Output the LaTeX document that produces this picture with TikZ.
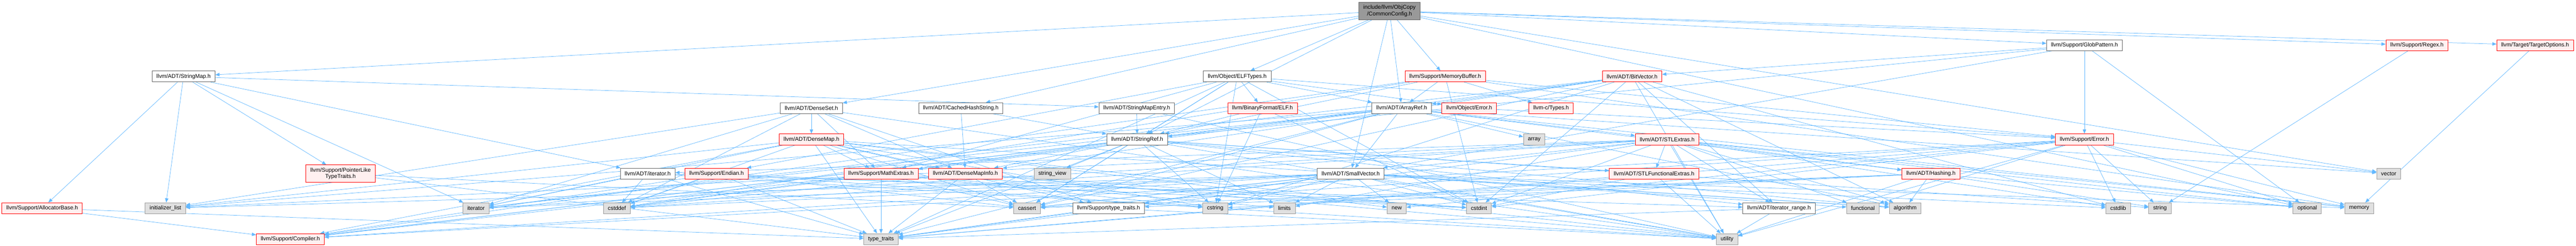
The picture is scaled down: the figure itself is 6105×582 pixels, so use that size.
\documentclass[tikz,border=0pt]{standalone}
\usepackage{fontspec}
\setmainfont{Liberation Sans}
\usetikzlibrary{arrows.meta, backgrounds}

\definecolor{edgeblue}{HTML}{63B8FF}
\definecolor{hdrline}{HTML}{666666}
\definecolor{sysline}{HTML}{999999}
\definecolor{sysfill}{HTML}{E0E0E0}
\definecolor{cutfill}{HTML}{FFF0F0}

\begin{document}
\begin{tikzpicture}[x=1pt, y=-1pt,
    every node/.style={font=\fontsize{13.2}{15}\selectfont, inner xsep=10.5pt, inner ysep=0pt,
        minimum height=26pt, line width=1pt, align=center},
    hdr/.style={draw=hdrline, fill=white},
    syshdr/.style={draw=sysline, fill=sysfill},
    cuthdr/.style={draw=red, fill=cutfill},
    roothdr/.style={draw=hdrline, fill=sysline, minimum height=42pt},
    incl/.style={draw=edgeblue, line width=0.9pt, -{Triangle[length=10pt,width=8pt]}}]
    \useasboundingbox (0,0) rectangle (6105,582);

    % rank 0 and 1
    \node[roothdr] (cfg) at (3293,26) {include/llvm/ObjCopy\\/CommonConfig.h};
    \node[hdr] (glob) at (4940,107) {llvm/Support/GlobPattern.h};
    \node[cuthdr] (regex) at (5728,107) {llvm/Support/Regex.h};
    \node[cuthdr] (targetopt) at (6008,107) {llvm/Target/TargetOptions.h};

    % rank 2
    \node[hdr] (stringmap) at (435,181) {llvm/ADT/StringMap.h};
    \node[hdr] (elftypes) at (2932,181) {llvm/Object/ELFTypes.h};
    \node[cuthdr] (membuf) at (3425,181) {llvm/Support/MemoryBuffer.h};
    \node[cuthdr] (bitvector) at (3868,181) {llvm/ADT/BitVector.h};

    % rank 3
    \node[hdr] (denseset) at (1923,256) {llvm/ADT/DenseSet.h};
    \node[hdr] (cachedhash) at (2277,256) {llvm/ADT/CachedHashString.h};
    \node[hdr] (mapentry) at (2694,256) {llvm/ADT/StringMapEntry.h};
    \node[cuthdr] (elfh) at (2992,256) {llvm/BinaryFormat/ELF.h};
    \node[hdr] (arrayref) at (3322,256) {llvm/ADT/ArrayRef.h};
    \node[cuthdr] (objerror) at (3482,256) {llvm/Object/Error.h};
    \node[cuthdr] (ctypes) at (3676,256) {llvm-c/Types.h};

    % rank 4
    \node[cuthdr] (densemap) at (1923,330) {llvm/ADT/DenseMap.h};
    \node[hdr] (stringref) at (2695,330) {llvm/ADT/StringRef.h};
    \node[syshdr] (array) at (3636,330) {array};
    \node[cuthdr] (stlextras) at (3951,330) {llvm/ADT/STLExtras.h};
    \node[cuthdr] (superror) at (4940,330) {llvm/Support/Error.h};

    % rank 5
    \node[cuthdr, minimum height=41pt] (pointerlike) at (807,411) {llvm/Support/PointerLike\\TypeTraits.h};
    \node[hdr] (iterh) at (1535,411) {llvm/ADT/iterator.h};
    \node[cuthdr] (endian) at (1698,411) {llvm/Support/Endian.h};
    \node[cuthdr] (mathextras) at (2088,411) {llvm/Support/MathExtras.h};
    \node[cuthdr] (densemapinfo) at (2288,411) {llvm/ADT/DenseMapInfo.h};
    \node[syshdr] (stringview) at (2494,411) {string\_view};
    \node[hdr] (smallvec) at (3201,411) {llvm/ADT/SmallVector.h};
    \node[cuthdr] (stlfunc) at (3920,411) {llvm/ADT/STLFunctionalExtras.h};
    \node[cuthdr] (hashing) at (4576,411) {llvm/ADT/Hashing.h};
    \node[syshdr] (vector) at (5661,411) {vector};

    % rank 6
    \node[cuthdr] (allocbase) at (100,493) {llvm/Support/AllocatorBase.h};
    \node[syshdr] (initlist) at (392,493) {initializer\_list};
    \node[syshdr] (iterator) at (1128,493) {iterator};
    \node[syshdr] (cstddef) at (1462,493) {cstddef};
    \node[syshdr] (cassert) at (2434,493) {cassert};
    \node[hdr] (suptraits) at (2627,493) {llvm/Support/type\_traits.h};
    \node[syshdr] (cstring) at (2880,493) {cstring};
    \node[syshdr] (limits) at (3044,493) {limits};
    \node[syshdr] (new) at (3310,493) {new};
    \node[syshdr] (cstdint) at (3505,493) {cstdint};
    \node[hdr] (iterrange) at (4216,493) {llvm/ADT/iterator\_range.h};
    \node[syshdr] (functional) at (4415,493) {functional};
    \node[syshdr] (algorithm) at (4515,493) {algorithm};
    \node[syshdr] (cstdlib) at (5020,493) {cstdlib};
    \node[syshdr] (string) at (5119,493) {string};
    \node[syshdr] (optional) at (5468,493) {optional};
    \node[syshdr] (memory) at (5591,493) {memory};

    % rank 7
    \node[cuthdr] (compiler) at (688,566) {llvm/Support/Compiler.h};
    \node[syshdr] (typetraits) at (2088,566) {type\_traits};
    \node[syshdr] (utility) at (4093,566) {utility};

    \begin{pgfonlayer}{background}
    \foreach \t in {arrayref,cachedhash,denseset,smallvec,stringmap,stringref,elftypes,glob,membuf,regex,targetopt,optional,vector}
        \draw[incl] (cfg) -- (\t);
    \foreach \t in {mapentry,iterh,allocbase,pointerlike,initlist,iterator}
        \draw[incl] (stringmap) -- (\t);
    \foreach \t in {compiler,typetraits}
        \draw[incl] (allocbase) -- (\t);
    \foreach \t in {cassert,typetraits}
        \draw[incl] (pointerlike) -- (\t);
    \foreach \t in {iterrange,cstddef,iterator,typetraits,utility}
        \draw[incl] (iterh) -- (\t);
    \foreach \t in {compiler,cassert,cstddef,cstdint,cstring,typetraits}
        \draw[incl] (endian) -- (\t);
    \foreach \t in {compiler,cassert,cstdint,cstring,limits,typetraits}
        \draw[incl] (mathextras) -- (\t);
    \foreach \t in {cassert,cstddef,cstdint,typetraits,utility}
        \draw[incl] (densemapinfo) -- (\t);
    \foreach \t in {densemap,densemapinfo,mathextras,suptraits,cstddef,initlist,iterator,utility}
        \draw[incl] (denseset) -- (\t);
    \foreach \t in {densemapinfo,mathextras,compiler,suptraits,algorithm,cassert,cstddef,cstring,initlist,iterator,new,typetraits,utility}
        \draw[incl] (densemap) -- (\t);
    \foreach \t in {densemapinfo,stringref}
        \draw[incl] (cachedhash) -- (\t);
    \foreach \t in {stringref,utility}
        \draw[incl] (mapentry) -- (\t);
    \foreach \t in {arrayref,elfh,objerror,stringref,endian,superror,mathextras,cassert,cstdint,cstring,typetraits}
        \draw[incl] (elftypes) -- (\t);
    \foreach \t in {stringref,cstdint,cstring}
        \draw[incl] (elfh) -- (\t);
    \foreach \t in {ctypes,arrayref,stringref,superror,compiler,cstddef,cstdint,memory}
        \draw[incl] (membuf) -- (\t);
    \foreach \t in {hashing,smallvec,stlextras,compiler,algorithm,array,cassert,cstddef,initlist,iterator,memory,typetraits,vector}
        \draw[incl] (arrayref) -- (\t);
    \draw[incl] (objerror) -- (superror);
    \foreach \t in {densemapinfo,stlfunc,iterrange,compiler,algorithm,cassert,cstddef,cstring,limits,string,stringview,typetraits,utility}
        \draw[incl] (stringref) -- (\t);
    \foreach \t in {hashing,stlfunc,iterh,iterrange,algorithm,cassert,cstddef,cstdint,cstdlib,functional,initlist,iterator,limits,memory,optional,typetraits,utility}
        \draw[incl] (stlextras) -- (\t);
    \foreach \t in {compiler,cassert,cstdint,cstdlib,functional,memory,new,optional,string,typetraits,utility,vector}
        \draw[incl] (superror) -- (\t);
    \foreach \t in {compiler,suptraits,algorithm,cassert,cstddef,cstdint,cstdlib,cstring,functional,initlist,iterator,limits,memory,new,typetraits,utility}
        \draw[incl] (smallvec) -- (\t);
    \foreach \t in {cstdint,typetraits,utility}
        \draw[incl] (stlfunc) -- (\t);
    \foreach \t in {suptraits,algorithm,cassert,cstring,optional,string,utility}
        \draw[incl] (hashing) -- (\t);
    \foreach \t in {typetraits,utility}
        \draw[incl] (iterrange) -- (\t);
    \foreach \t in {typetraits,utility}
        \draw[incl] (suptraits) -- (\t);
    \foreach \t in {arrayref,densemapinfo,iterrange,mathextras,algorithm,cassert,cstdint,cstdlib,cstring,iterator,utility}
        \draw[incl] (bitvector) -- (\t);
    \foreach \t in {bitvector,smallvec,stringref,superror,optional}
        \draw[incl] (glob) -- (\t);
    \draw[incl] (regex) -- (string);
    \draw[incl] (targetopt) -- (memory);
    \end{pgfonlayer}
\end{tikzpicture}
\end{document}
